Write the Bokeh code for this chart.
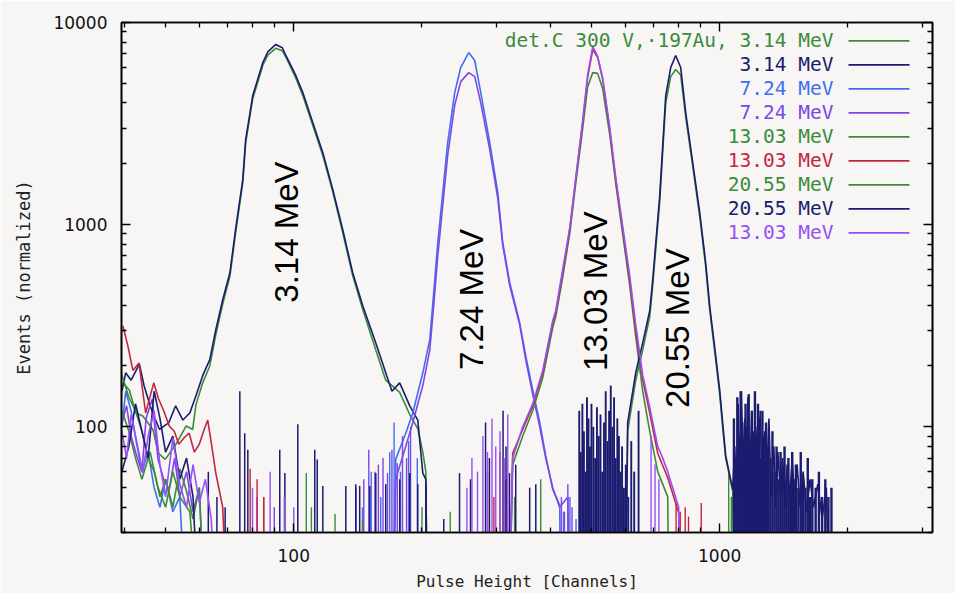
import math
from bokeh.plotting import figure
from bokeh.models import (Range1d, FixedTicker, NumeralTickFormatter, LogAxis,
                          Label, CustomJSTickFormatter)
from bokeh.embed import file_html
from bokeh.resources import INLINE

# ---------------- data ----------------
LEGEND = ["det.C 300 V,\u00b7197Au, 3.14 MeV", "3.14 MeV", "7.24 MeV", "7.24 MeV",
          "13.03 MeV", "13.03 MeV", "20.55 MeV", "20.55 MeV", "13.03 MeV"]
GREEN, NAVY, BLUE, PURPLE, RED, VIOLET = "#3b8b3b", "#1b1b70", "#3f6ff0", "#8045e6", "#c3273f", "#9650f5"
COLORS = [GREEN, NAVY, BLUE, PURPLE, GREEN, RED, GREEN, NAVY, VIOLET]

FLOOR = 10  # empty channels (below the axis)

S1_CH = [39.7, 41.1, 42.6, 44.2, 46.7, 48.1, 49.9, 52.9, 55.9, 57.9,
         58.9, 61.1, 63.5, 65.6, 68.1, 70.8, 73.1, 75.9, 77.1, 80.1,
         84.6, 86.9, 90.7, 94.0, 95.8, 101.1, 105.0, 110.8, 117.0, 123.5,
         130.3, 137.5, 145.2, 155.8, 164.4, 177.3, 187.2, 195.5, 200.9, 204.2, 206]
S1_CNT = [165, 152, 117, 113, 97, 74, 69, 82, 101, 97,
          128, 165, 200, 285, 405, 555, 925, 1610, 2540, 4200,
          6150, 6900, 7450, 7250, 6750, 5300, 4350, 3100, 2200, 1450,
          915, 560, 380, 240, 170, 148, 115, 98, 75, 60, 10]

S2_CH = [39.5, 40.3, 41.5, 43.4, 44.5, 46.0, 47.2, 48.4,
         50.9, 52.8, 54.9, 57.0, 58.9, 61.1, 63.5, 65.6, 68.1, 70.8,
         73.1, 75.9, 77.1, 80.1, 84.6, 86.9, 90.7, 94.0, 95.8, 101.1,
         105.0, 110.8, 117.0, 123.5, 130.3, 137.5, 145.2, 155.8, 164.4, 170,
         177.3, 187.2, 195.5, 200.9, 204.2, 206]
S2_CNT = [150, 185, 170, 204, 160, 127, 110, 97,
          105, 127, 108, 117, 142, 179, 215, 302, 425, 578,
          966, 1670, 2635, 4350, 6340, 7150, 7790, 7500, 6870, 5470,
          4500, 3200, 2270, 1490, 944, 578, 397, 260, 185, 150,
          165, 127, 108, 59, 55, 10]

S3_CH = [39.5, 40.3, 41.5, 42.6, 44, 45.5, 47, 48.5, 50, 52, 54, 56,
         172, 173.5, 183.2, 190.3, 200.9, 208.6, 213.1, 217.8, 229.8, 238.7,
         246.6, 257.5, 266.0, 274.8, 288.5, 301.3, 309.5, 321.4, 339.2, 350.4,
         363.9, 378.0, 390.4, 405.5, 421.1, 424]
S3_CNT = [100, 150, 120, 86, 60, 75, 50, 40, 55, 38, 45, 10,
          10, 69, 93, 117, 185, 270, 460, 814, 2547, 4502,
          5986, 7105, 6486, 4502, 2547, 1439, 814, 516, 327, 225,
          152, 105, 72, 49, 41, 10]

S4_CH = [39.5, 40.5, 41.5, 42.6, 44, 45, 46.5, 48, 49.5, 51, 52.5, 54, 56, 58, 60, 62,
         170, 173.5, 183.2, 190.3, 200.9, 208.6, 213.1, 217.8, 229.8, 238.7,
         246.6, 257.5, 266.0, 274.8, 288.5, 301.3, 309.5, 321.4, 339.2, 350.4,
         363.9, 378.0, 390.4, 405.5, 421.1, 440, 444]
S4_CNT = [105, 127, 90, 74, 60, 110, 137, 69, 55, 49, 70, 45, 60, 38, 50, 10,
          10, 55, 80, 105, 160, 240, 400, 700, 2200, 3900,
          5100, 5650, 5400, 4000, 2350, 1350, 790, 500, 320, 215,
          145, 100, 70, 50, 40, 45, 10]

S5_CH = [39.5, 41, 42.5, 44, 45.5, 47, 48.5, 50, 52, 54, 56, 58, 60, 62,
         320, 326.6, 344.8, 363.9, 384.2, 405.5, 412.1, 428.0, 444.5, 459.2,
         476.9, 489.7, 503.4, 517.1, 531.3, 551.8, 570.0, 591.9, 614.8, 635.1,
         659.6, 685.1, 715.4, 755.1, 760]
S5_CNT = [180, 140, 120, 95, 70, 60, 45, 55, 40, 62, 48, 35, 50, 10,
          10, 65, 90, 120, 175, 310, 350, 550, 900, 1600,
          3000, 4800, 5650, 5600, 4700, 2800, 1600, 900, 500, 280,
          150, 95, 60, 45, 10]

S6_CH = [39.7, 40.8, 41.9, 43.3, 44.9, 46.9, 48.1, 49.5, 51.0, 52.4,
         53.7, 55.2, 56.8, 58.4, 60.0, 61.4, 62.8, 64.2, 65.6, 68.1, 70,
         320, 326.6, 344.8, 363.9, 384.2, 405.5, 412.1, 428.0, 444.5, 459.2,
         476.9, 489.7, 503.4, 517.1, 531.3, 551.8, 570.0, 591.9, 614.8, 635.1,
         659.6, 685.1, 715.4, 755.1, 801.3, 806]
S6_CNT = [316, 250, 190, 207, 117, 165, 138, 120, 101, 95,
          82, 88, 93, 75, 82, 95, 108, 80, 59, 40, 10,
          10, 74, 97, 127, 185, 327, 367, 578, 944, 1670,
          3200, 5343, 7347, 6710, 5223, 2953, 1670, 944, 534, 302,
          171, 117, 74, 56, 37.5, 10]

S7_CH = [39.5, 41, 42.5, 44, 46, 48, 50, 52, 54, 57, 60,
         600, 608.1, 635.1, 659.6, 685.1, 696.3, 723.2, 735.0, 747.0, 767.4,
         788.4, 810.0, 832.2, 864.3, 897.7, 927.1, 947.3, 978.6, 1000, 1016,
         1033, 1073, 1080]
S7_CNT = [120, 95, 70, 55, 75, 50, 40, 60, 45, 38, 10,
          10, 95, 170, 240, 350, 500, 1300, 2300, 4000, 5400,
          5850, 5500, 3400, 1950, 1100, 620, 380, 215, 145, 100,
          70, 48, 10]

S8_CH = [39.5, 41, 42.5, 44, 45.5, 47, 48.5, 50, 52, 54, 56, 58, 60,
         600, 608.1, 635.1, 659.6, 685.1, 696.3, 723.2, 735.0, 747.0, 767.4, 788.4,
         810.0, 832.2, 864.3, 897.7, 927.1, 947.3, 978.6, 1000, 1016, 1033, 1073,
         1085, 1095, 1105, 1115, 1125, 1135, 1145, 1155, 1165, 1175,
         1190, 1200, 1215, 1230, 1245, 1260, 1275, 1290, 1305, 1320,
         1340, 1355, 1370, 1390, 1405, 1425, 1440, 1460, 1480, 1500,
         1520, 1545, 1570, 1600, 1630, 1660, 1700, 1740, 1780, 1810]
S8_CNT = [60, 80, 130, 95, 70, 150, 110, 75, 90, 55, 70, 45, 10,
          10, 105, 185, 260, 375, 534, 1392, 2460, 4350, 5986, 6870,
          5986, 3585, 2028, 1147, 648, 397, 225, 152, 105, 72, 49,
          80, 45, 130, 50, 150, 60, 110, 40, 140, 55,
          120, 45, 100, 60, 120, 40, 95, 55, 110, 45,
          80, 40, 75, 45, 70, 40, 65, 45, 70, 42,
          65, 40, 60, 38, 55, 40, 52, 35, 50, 10]

S9_CH = [39.5, 40.5, 41.5, 43, 44.2, 45.5, 47, 48.5, 50, 52, 54, 56, 58, 60, 62, 64, 66,
         320, 326.6, 344.8, 363.9, 384.2, 405.5, 412.1, 428.0, 444.5, 459.2, 476.9,
         489.7, 503.4, 517.1, 531.3, 551.8, 570.0, 591.9, 614.8, 635.1, 659.6,
         685.1, 700, 715.4, 735, 755.1, 801.3, 806]
S9_CNT = [95, 70, 115, 80, 59, 90, 120, 65, 45, 88, 52, 40, 65, 42, 55, 35, 10,
          10, 70, 100, 130, 190, 335, 375, 600, 960, 1700, 3300,
          5500, 7600, 6800, 5300, 3050, 1720, 980, 560, 320, 180,
          125, 100, 80, 70, 60, 40, 10]

# isolated single-channel spikes (channel, counts)
SP3_CH = [145, 152, 160, 168, 172, 178, 186, 195, 430, 445, 460]
SP3_CNT = [40, 60, 45, 75, 105, 60, 85, 70, 38, 45, 35]
SP4_CH = [82, 90, 140, 146, 150, 155, 158, 162, 166, 170, 175, 180, 184, 188, 425, 432, 440, 450]
SP4_CNT = [45, 40, 50, 55, 77, 60, 65, 70, 59, 77, 66, 90, 70, 100, 45, 38, 52, 40]
SP5_CH = [85, 107, 110, 125, 145, 200, 233, 330, 380, 1050, 1065, 1090]
SP5_CNT = [45, 59, 40, 37, 35, 40, 38, 45, 55, 60, 45, 45]
SP6_CH = [79, 82, 85, 285, 295, 305, 315, 790, 808, 830, 845, 905]
SP6_CNT = [62, 55, 45, 60, 45, 75, 55, 42, 38, 40, 36, 42]
SP8A_CH = [63, 66, 69, 74.7, 76.7, 78, 92.7, 95.3, 102.2, 112.0, 113.5, 117,
           132.5, 139.8, 142.8, 150.8, 155.8, 164.4, 177.3, 187.2, 195.5, 204.2,
           225, 245, 260, 282, 288, 310, 315, 321, 332, 358, 370]
SP8A_CNT = [60, 45, 40, 150, 93, 77, 77, 59, 103, 77, 69, 51,
            51, 52, 51, 51, 59, 52, 55, 59, 52, 51,
            35, 59, 55, 105, 70, 120, 80, 59, 65, 50, 52]
SP8B_CH = [468, 472, 476, 480, 484, 488, 492, 496, 500, 505, 510, 515, 520, 525, 530,
           535, 540, 545, 550, 555, 560, 565, 570, 575, 580, 585, 590, 596, 602, 610,
           620, 630, 645]
SP8B_CNT = [120, 75, 130, 95, 60, 140, 110, 80, 130, 100, 70, 125, 90, 115, 60,
            105, 150, 85, 120, 160, 100, 140, 70, 110, 90, 60, 80, 50, 65, 45,
            85, 60, 120]
SP8C_CH = [1080, 1090, 1100, 1110, 1120, 1130, 1140, 1150, 1160, 1170,
           1180, 1190, 1200, 1210, 1220, 1230, 1240, 1250, 1260, 1270,
           1285, 1300, 1315, 1330, 1345, 1360, 1375, 1390, 1405, 1420,
           1435, 1450, 1465, 1480, 1495, 1510, 1530, 1550, 1570, 1590,
           1610, 1630, 1650, 1680, 1710, 1740, 1770, 1800, 1830]
SP8C_CNT = [110, 70, 140, 90, 150, 105, 80, 130, 100, 145,
            75, 120, 95, 150, 85, 130, 110, 70, 120, 90,
            105, 80, 70, 95, 60, 80, 55, 75, 60, 80,
            55, 70, 50, 75, 55, 65, 50, 75, 55, 50,
            70, 45, 55, 50, 60, 45, 55, 45, 50]
SP9_CH = [80, 88, 95, 100, 255, 262, 270, 278, 285, 292, 298, 305, 312, 318, 690, 705, 720]
SP9_CNT = [50, 60, 45, 40, 50, 70, 60, 90, 75, 110, 80, 95, 70, 115, 90, 65, 55]

PEAK_LABELS = ["3.14 MeV", "7.24 MeV", "13.03 MeV", "20.55 MeV"]
PEAK_LABEL_CH = [96.0, 261.7, 510.0, 797.0]
PEAK_LABEL_CNT = [411, 191, 189, 124]

X_MAJOR = [100, 1000]
Y_MAJOR = [100, 1000, 10000]

# ---------------- figure ----------------
W, H = 955, 593
ML, MR, MT, MB = 121, 23, 22, 61
FW, FH = W - ML - MR, H - MT - MB
XMIN, XMAX = 39.4, 3160.0
YMIN, YMAX = 30.0, 10000.0
BG = "#f7f6f4"

p = figure(width=W, height=H, x_axis_type="log", y_axis_type="log",
           x_range=Range1d(XMIN, XMAX), y_range=Range1d(YMIN, YMAX),
           output_backend="svg", toolbar_location=None,
           min_border_left=ML, min_border_right=MR, min_border_top=MT, min_border_bottom=MB,
           background_fill_color=BG, border_fill_color=BG,
           outline_line_color="black", outline_line_width=1.6)
p.xgrid.visible = False
p.ygrid.visible = False

x_minor = [m * 10 ** k for k in (1, 2, 3) for m in range(2, 10) if XMIN <= m * 10 ** k <= XMAX]
y_minor = [m * 10 ** k for k in (1, 2, 3) for m in range(2, 10) if YMIN <= m * 10 ** k <= YMAX]

TICK_FONT = "DejaVu Sans"
LABEL_FONT = "DejaVu Sans Mono"


def style_axis(ax, ticker, show_labels):
    ax.ticker = ticker
    ax.major_tick_in = 9
    ax.major_tick_out = 0
    ax.minor_tick_in = 5
    ax.minor_tick_out = 0
    ax.axis_line_width = 1.6
    ax.major_tick_line_width = 1.4
    ax.minor_tick_line_width = 1.3
    if show_labels:
        ax.formatter = NumeralTickFormatter(format="0")
        ax.major_label_text_font = TICK_FONT
        ax.major_label_text_font_size = "17px"
        ax.major_label_text_color = "#111111"
    else:
        ax.formatter = CustomJSTickFormatter(code="return ''")
        ax.major_label_standoff = 0


xt = FixedTicker(ticks=X_MAJOR, minor_ticks=x_minor)
yt = FixedTicker(ticks=Y_MAJOR, minor_ticks=y_minor)

xa = p.xaxis[0]
style_axis(xa, xt, True)
xa.major_label_standoff = 16
xa.axis_label = "Pulse Height [Channels]"
xa.axis_label_text_font = LABEL_FONT
xa.axis_label_text_font_size = "16px"
xa.axis_label_text_font_style = "normal"
xa.axis_label_text_color = "#222222"
xa.axis_label_standoff = 7

ya = p.yaxis[0]
style_axis(ya, yt, True)
ya.major_label_standoff = 14
ya.axis_label = "Events (normalized)"
ya.axis_label_text_font = LABEL_FONT
ya.axis_label_text_font_size = "17px"
ya.axis_label_text_font_style = "normal"
ya.axis_label_text_color = "#222222"
ya.axis_label_standoff = 16

top = LogAxis()
style_axis(top, FixedTicker(ticks=X_MAJOR, minor_ticks=x_minor), False)
p.add_layout(top, "above")
right = LogAxis()
style_axis(right, FixedTicker(ticks=Y_MAJOR, minor_ticks=y_minor), False)
p.add_layout(right, "right")

# ---------------- series ----------------
LINES = [(S1_CH, S1_CNT), (S2_CH, S2_CNT), (S3_CH, S3_CNT), (S4_CH, S4_CNT), (S5_CH, S5_CNT),
         (S6_CH, S6_CNT), (S7_CH, S7_CNT), (S8_CH, S8_CNT), (S9_CH, S9_CNT)]
SPIKES = {2: [(SP3_CH, SP3_CNT, 1.4)], 3: [(SP4_CH, SP4_CNT, 1.4)], 4: [(SP5_CH, SP5_CNT, 1.4)],
          5: [(SP6_CH, SP6_CNT, 1.4)],
          7: [(SP8A_CH, SP8A_CNT, 1.5), (SP8B_CH, SP8B_CNT, 1.9), (SP8C_CH, SP8C_CNT, 2.4)],
          8: [(SP9_CH, SP9_CNT, 1.4)]}

for i, (xs, ys) in enumerate(LINES):
    col = COLORS[i]
    for sx, sy, lw in SPIKES.get(i, []):
        p.segment(x0=sx, y0=[FLOOR] * len(sx), x1=sx, y1=sy, line_color=col, line_width=lw)
    p.line(xs, ys, line_color=col, line_width=1.6)


# ---------------- legend (frame-relative placement) ----------------
def fx(off):
    return 10 ** (math.log10(XMIN) + off / FW * math.log10(XMAX / XMIN))


def fy(off):
    return 10 ** (math.log10(YMAX) - off / FH * math.log10(YMAX / YMIN))


for i, (txt, col) in enumerate(zip(LEGEND, COLORS)):
    yy = fy(18.3 + 24.0 * i)
    p.add_layout(Label(x=fx(712), y=yy, text=txt, text_align="right", text_baseline="middle",
                       text_color=col, text_font=LABEL_FONT, text_font_size="19.5px"))
    p.segment(x0=[fx(727)], y0=[yy], x1=[fx(788)], y1=[yy], line_color=col, line_width=1.7)

for txt, cx, cy in zip(PEAK_LABELS, PEAK_LABEL_CH, PEAK_LABEL_CNT):
    p.add_layout(Label(x=cx, y=cy, text=txt, angle=math.pi / 2, text_align="left",
                       text_baseline="middle", text_color="black",
                       text_font="Liberation Sans", text_font_size="33px"))

open("out.html", "w").write(file_html(p, INLINE))
